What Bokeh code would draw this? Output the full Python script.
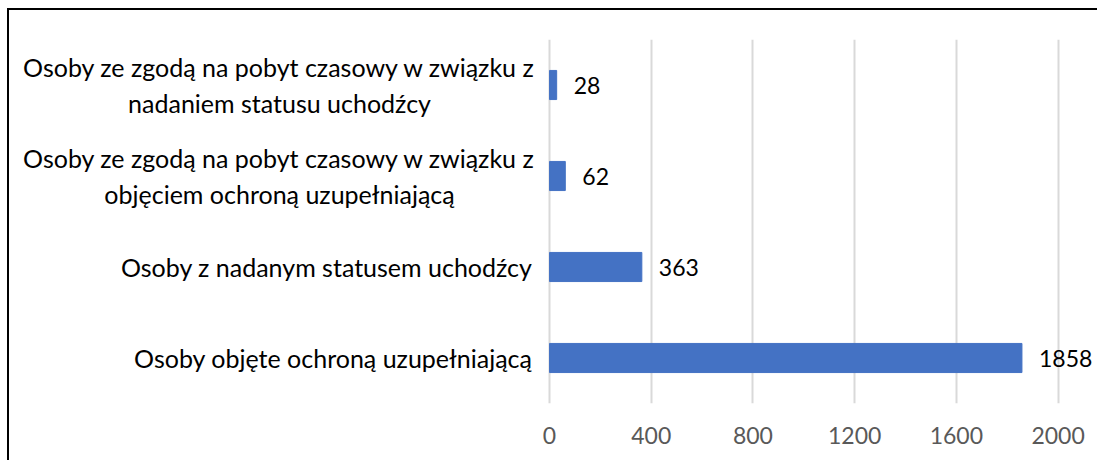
from bokeh.plotting import figure
from bokeh.models import ColumnDataSource, FactorRange, Range1d, FixedTicker
from bokeh.core.properties import value
from bokeh.embed import file_html
from bokeh.resources import INLINE

# ---- data ----
categories = [
    "Osoby ze zgodą na pobyt czasowy w związku z\nnadaniem statusu uchodźcy",
    "Osoby ze zgodą na pobyt czasowy w związku z\nobjęciem ochroną uzupełniającą",
    "Osoby z nadanym statusem uchodźcy",
    "Osoby objęte ochroną uzupełniającą",
]
values = [28, 62, 363, 1858]
x_ticks = [0, 400, 800, 1200, 1600, 2000]

FONT = "Lato"
BAR = "#4472C4"

# frame spans the label area too (negative side left blank for the labels)
p = figure(
    width=1090, height=452,
    y_range=FactorRange(factors=list(reversed(categories)), range_padding=0),
    x_range=Range1d(-2124, 2163),
    output_backend="svg", toolbar_location=None,
    min_border_left=0, min_border_right=0, min_border_top=29, min_border_bottom=59,
)
p.styles = {"margin-left": "7px", "margin-top": "8px",
            "border-left": "2px solid black", "border-top": "2px solid black"}
p.outline_line_color = None
p.background_fill_color = "white"
p.border_fill_color = "white"

src = ColumnDataSource(dict(cat=categories, val=values, lbl=[str(v) for v in values],
                            zero=[0] * len(values)))
p.hbar(y="cat", right="val", left=0, height=0.32, source=src,
       fill_color=BAR, line_color=BAR)

# value labels
p.text(x="val", y="cat", text="lbl", source=src, x_offset=17,
       text_align="left", text_baseline="middle",
       text_font=value(FONT), text_font_size="23px", text_color="black")

# category labels
multi = [i for i, c in enumerate(categories) if "\n" in c]
single = [i for i, c in enumerate(categories) if "\n" not in c]
src_multi = ColumnDataSource(dict(cat=[categories[i] for i in multi],
                                  zero=[0] * len(multi)))
src_single = ColumnDataSource(dict(cat=[categories[i] for i in single],
                                   zero=[0] * len(single)))
p.text(x="zero", y="cat", text="cat", source=src_single, x_offset=-17,
       text_align="right", text_baseline="middle",
       text_font=value(FONT), text_font_size="25px", text_color="black")
p.text(x="zero", y="cat", text="cat", source=src_multi, x_offset=-270,
       text_align="center", text_baseline="middle", text_line_height=1.22,
       text_font=value(FONT), text_font_size="25px", text_color="black")

# axes
p.yaxis.visible = False
p.xaxis.ticker = FixedTicker(ticks=x_ticks)
p.xaxis.axis_line_color = None
p.xaxis.major_tick_line_color = None
p.xaxis.minor_tick_line_color = None
p.xaxis.major_label_standoff = 17
p.xaxis.major_label_text_font = FONT
p.xaxis.major_label_text_font_size = "23px"
p.xaxis.major_label_text_color = "#595959"

p.xgrid.ticker = FixedTicker(ticks=x_ticks)
p.xgrid.grid_line_color = "#D9D9D9"
p.xgrid.grid_line_width = 2
p.ygrid.grid_line_color = None

open("out.html", "w").write(file_html(p, INLINE))
